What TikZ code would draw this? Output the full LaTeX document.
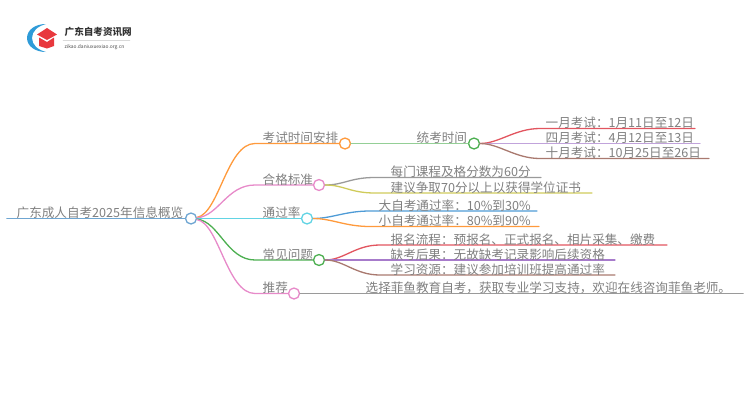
\documentclass[tikz,border=0pt]{standalone}
\usepackage{fontspec}
\setmainfont{Noto Sans CJK SC}
\definecolor{txtgray}{HTML}{808080}
\definecolor{rootblue}{HTML}{6FA6D2}
\definecolor{corange}{HTML}{FF9A3C}
\definecolor{cpink}{HTML}{E78AC9}
\definecolor{ccyan}{HTML}{62D4E4}
\definecolor{cgreen}{HTML}{4CAF50}
\definecolor{cred}{HTML}{E2555F}
\definecolor{cpurple}{HTML}{A77BCB}
\definecolor{cbrown}{HTML}{A9796F}
\definecolor{cgray}{HTML}{9A9A9A}
\definecolor{colive}{HTML}{CFCB5A}
\definecolor{cblue}{HTML}{4E9BD6}
\definecolor{logored}{HTML}{E8383D}
\definecolor{logoblue}{HTML}{2F9BD8}
\tikzset{
	dot/.style={circle,draw=#1,fill=white,line width=1.3pt,minimum width=11pt,minimum height=9pt,inner sep=0pt},
	lab/.style={anchor=base west,inner sep=0pt,yshift=-1.5pt,text=txtgray,font=\fontsize{12.6}{13}\selectfont},
}
\begin{document}
\begin{tikzpicture}[x=1pt,y=-1pt,line join=round,line cap=round,line width=1.3pt]
	\useasboundingbox (0,0) rectangle (750,410);
	\path
	(191,218.5) node[dot=rootblue] (root) {}
	(7,218.5) coordinate (rootS)
	(255,143.5) coordinate (timeL)
	(345,143.5) node[dot=corange] (time) {}
	(474,143.5) node[dot=cgreen] (tong) {}
	(255,185) coordinate (passL)
	(319,185) node[dot=cpink] (pass) {}
	(307,218.5) node[dot=ccyan] (rate) {}
	(255,260) coordinate (faqL)
	(319,260) node[dot=cgreen] (faq) {}
	(255,293.5) coordinate (recL)
	(294,293.5) node[dot=cpink] (rec) {}
	;
	% logo
	\fill[logoblue] (46,24) .. controls (35,24) and (27,30) .. (27,38)
	.. controls (27,46) and (35,52) .. (46,52)
	.. controls (38,50) and (32,45) .. (32,38)
	.. controls (32,31) and (38,26) .. (46,24) -- cycle;
	\fill[logored] (37,34.5) -- (47,28) -- (57,34.5) -- (47,40) -- cycle;
	\fill[logored] (39,37.5) -- (47,42) -- (54,37.5) -- (54,46) -- (47,48.5) -- (39,46) -- cycle;
	\node[anchor=base west,inner sep=0pt,font=\bfseries\fontsize{9.6}{10}\selectfont,text=black!80] (brand) at (64,35) {广东自考资讯网};
	\draw[black!15,line width=.4pt] (63,40.5) -- (130,40.5);
	\node[anchor=base west,inner sep=0pt,font=\fontsize{4.9}{5}\selectfont,text=black!70] (site) at (64,48) {zikao.daniuxuexiao.org.cn};
	% main branches
	\draw[rootblue,line width=1.8pt] (rootS) -- (root);
	\draw[corange] (root) .. controls +(28,-5) and +(-28,0) .. (timeL) -- (time);
	\draw[cpink] (root) .. controls +(28,-3) and +(-28,0) .. (passL) -- (pass);
	\draw[ccyan,line width=1.6pt] (root) -- (rate);
	\draw[cgreen] (root) .. controls +(28,3) and +(-28,0) .. (faqL) -- (faq);
	\draw[cpink] (root) .. controls +(28,5) and +(-28,0) .. (recL) -- (rec);
	\draw[cgreen!60!white,line width=1.6pt] (time) -- (tong);
	% leaves
	\foreach \from/\y/\xa/\xb/\col in {
		tong/128.5/540/695/cred,tong/143.5/540/700/cpurple!70,tong/158.5/540/709/cbrown,
		pass/177.5/375/541/cgray,pass/193/375/592/colive,
		rate/211/370/537/cblue,rate/226.5/370/539/corange,
		faq/245/380/667/cred,faq/260/380/615/cpurple,faq/275/380/615/cbrown}
	\draw[\col] (\from) .. controls +(25,0) and +(-25,0) .. (\xa,\y) -- (\xb,\y);
	\draw[cgray,line width=1.6pt] (rec) -- (743,293.5);
	% labels
	\foreach \x/\y/\txt in {
		16/216/广东成人自考2025年信息概览,
		262/141/考试时间安排,416/141/统考时间,
		262/182.5/合格标准,262/216/通过率,262/257.5/常见问题,262/291/推荐,
		545/126/一月考试：1月11日至12日,545/141/四月考试：4月12日至13日,545/156/十月考试：10月25日至26日,
		390/175/每门课程及格分数为60分,390/190.5/建议争取70分以上以获得学位证书,
		378/208.5/大自考通过率：10\%到30\%,378/224/小自考通过率：80\%到90\%,
		390/242.5/报名流程：预报名、正式报名、相片采集、缴费,390/257.5/缺考后果：无故缺考记录影响后续资格,390/273/学习资源：建议参加培训班提高通过率,
		365/291/选择菲鱼教育自考，获取专业学习支持，欢迎在线咨询菲鱼老师。}
	\node[lab] at (\x,\y) {\txt};
\end{tikzpicture}
\end{document}
